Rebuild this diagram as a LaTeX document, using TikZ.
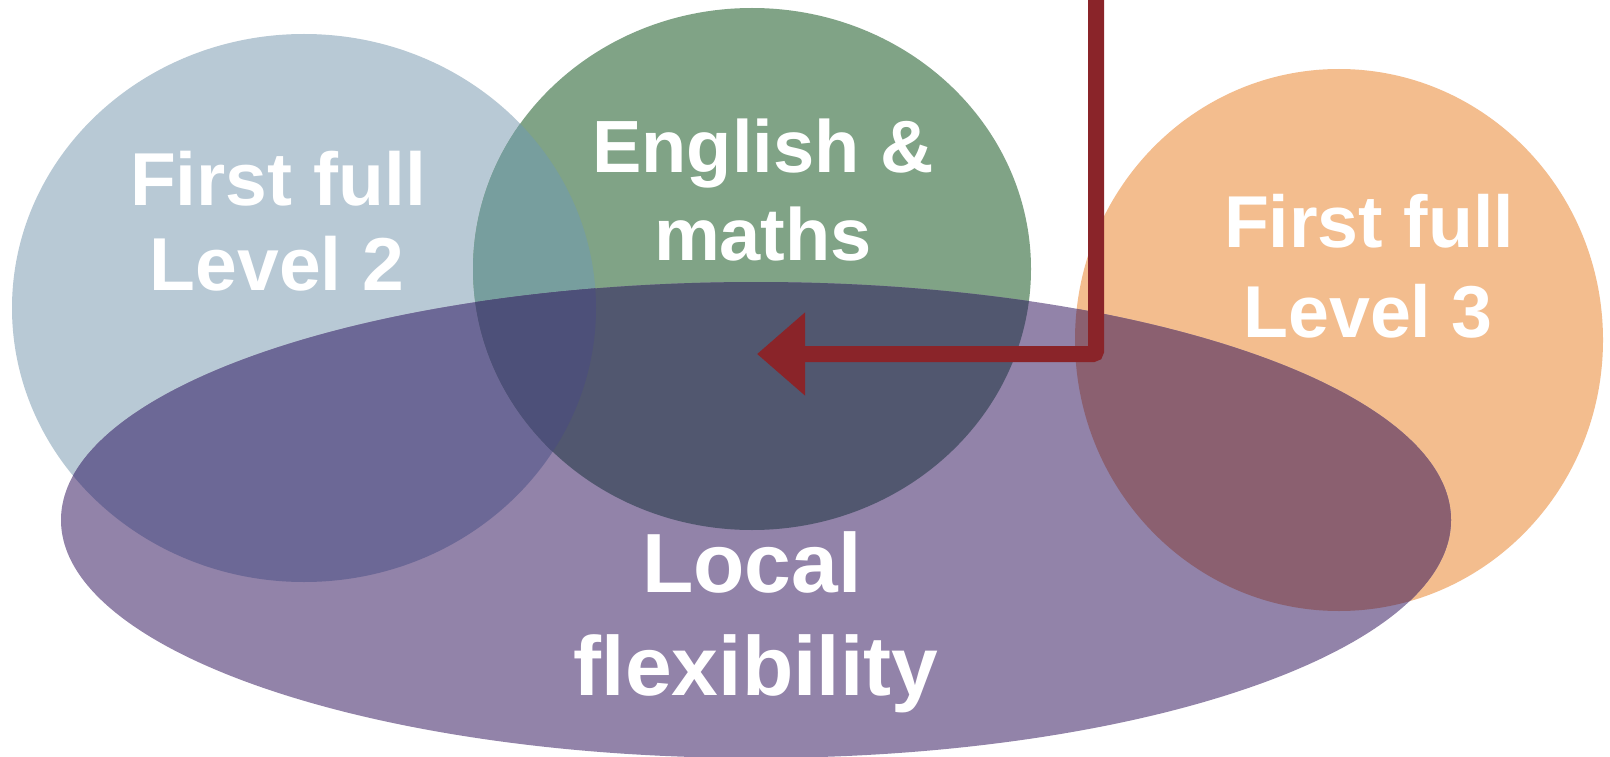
\documentclass[tikz,border=0pt]{standalone}
\usepackage{fontspec}
\setmainfont{Liberation Sans}
\usetikzlibrary{arrows.meta}
\definecolor{blueC}{HTML}{B8C9D5}
\definecolor{greenC}{HTML}{80A386}
\definecolor{tealC}{HTML}{779E9E}
\definecolor{orangeC}{HTML}{F3BD8E}
\definecolor{purpC}{HTML}{9283A9}
\definecolor{purpBlue}{HTML}{6C6896}
\definecolor{purpGreen}{HTML}{51576F}
\definecolor{purpBG}{HTML}{4D5079}
\definecolor{purpOr}{HTML}{8B6070}
\definecolor{arrowC}{HTML}{8A2429}
\tikzset{
  lbl/.style={text=white, font=\bfseries, anchor=base, inner sep=0pt},
  conn/.style={draw=arrowC, line width=16pt, rounded corners=3pt,
    -{Triangle[length=48pt,width=80pt]}}
}
\def\blueE{(304,308) ellipse [x radius=292pt, y radius=274pt]}
\def\greenE{(752,269) ellipse [x radius=279pt, y radius=261pt]}
\def\orangeE{(1339,340) ellipse [x radius=264pt, y radius=271pt]}
\def\purpE{(756,520) ellipse [x radius=695pt, y radius=238pt]}
\begin{document}
\begin{tikzpicture}[x=1pt,y=-1pt]
\useasboundingbox (0,0) rectangle (1610,757);
\fill[white] (0,0) rectangle (1610,757);
% base ellipses
\fill[blueC] \blueE;
\fill[greenC] \greenE;
\begin{scope}
  \clip \blueE;
  \fill[tealC] \greenE;
\end{scope}
\fill[orangeC] \orangeE;
\fill[purpC] \purpE;
\begin{scope}
  \clip \purpE;
  \fill[purpBlue] \blueE;
  \fill[purpGreen] \greenE;
  \fill[purpOr] \orangeE;
  \clip \greenE;
  \fill[purpBG] \blueE;
\end{scope}
% labels
\node[lbl, font=\bfseries\fontsize{75}{85}\selectfont] (l2a) at (278,205) {First full};
\node[lbl, font=\bfseries\fontsize{75}{85}\selectfont] (l2b) at (277,290) {Level 2};
\node[lbl, font=\bfseries\fontsize{74}{88}\selectfont] (ema) at (763,172) {English \&};
\node[lbl, font=\bfseries\fontsize{74}{88}\selectfont] (emb) at (763,260) {maths};
\node[lbl, font=\bfseries\fontsize{73.5}{90}\selectfont] (l3a) at (1369,247) {First full};
\node[lbl, font=\bfseries\fontsize{73.5}{90}\selectfont] (l3b) at (1368,337) {Level 3};
\node[lbl, font=\bfseries\fontsize{84}{103}\selectfont] (lfa) at (752,592) {Local};
\node[lbl, font=\bfseries\fontsize{84}{103}\selectfont] (lfb) at (756,695) {flexibility};
% arrow
\coordinate (arrStart) at (1096,-20);
\coordinate (arrEnd) at (757,354);
\draw[conn] (arrStart) |- (arrEnd);
\end{tikzpicture}
\end{document}
